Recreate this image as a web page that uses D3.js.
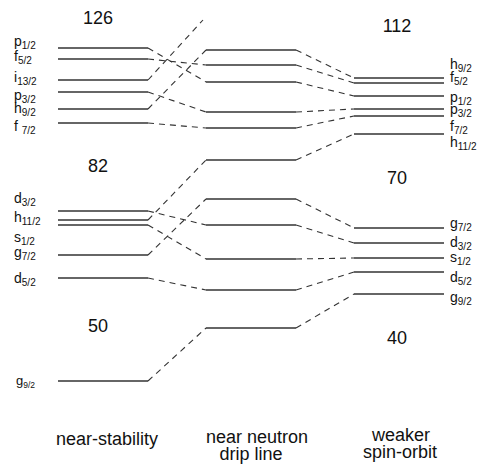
<!DOCTYPE html>
<html>
<head>
<meta charset="utf-8">
<script src="https://cdn.jsdelivr.net/npm/d3@7"></script>
<style>
  html, body { margin: 0; padding: 0; background: #fff; }
  svg { display: block; font-family: "Liberation Sans", Arial, Helvetica, sans-serif; }
</style>
</head>
<body>
<svg id="chart" width="478" height="468"></svg>
<script>
// ---- data (energies in arbitrary units, higher = less bound) ----
const columns = ["near-stability", "near neutron drip line", "weaker spin-orbit"];
const orbitL  = ["p", "f", "i", "p", "h", "f", "d", "h", "s", "g", "d", "g"];
const orbitJ  = ["1/2", "5/2", "13/2", "3/2", "9/2", "7/2", "3/2", "11/2", "1/2", "7/2", "5/2", "9/2"];
const energyStability = [352, 341, 320, 308, 291, 277, 189, 180, 175, 145, 122, 19];
const energyDripLine  = [318, 335, 380, 288, 350, 272, 175, 240, 141, 201, 110, 72];
const energyWeakSO    = [304, 317, null, 291, 322, 284, 157, 266, 142, 172, 128, 106];
const magicStability  = [126, 82, 50];
const magicStabilityE = [382, 234, 74];
const magicWeakSO     = [112, 70, 40];
const magicWeakSOE    = [374, 222, 62];

// ---- layout ----
const svg = d3.select("#chart");
const x = d3.scalePoint().domain(columns).range([103, 399]);
const y = d3.scaleLinear().domain([0, 400]).range([400, 0]);
const halfW = 45;
const lineColor = "#333";
const textColor = "#111";

// label baseline offsets from their level lines (in orbit order)
const labelNudgeLeft  = [-2, 2, 2, 8, 4, 8, -8, 2, 17, 2, 5, 4];
const labelNudgeRight = [6, -1, 0, 5, -9, 15, 4, 13, 4, 0, 10, 8];

const series = [energyStability, energyDripLine, energyWeakSO];
const levels = orbitL.map((l, i) => ({
  l, j: orbitJ[i], i,
  e: series.map(s => s[i])
}));

// solid level lines
levels.forEach(d => {
  d.e.forEach((e, c) => {
    if (e == null) return;
    // level is off-chart in middle column when it vanishes in next column
    if (c === 1 && d.e[2] == null) return;
    const cx = x(columns[c]);
    svg.append("line")
      .attr("x1", cx - halfW).attr("x2", cx + halfW)
      .attr("y1", y(e)).attr("y2", y(e))
      .attr("stroke", lineColor).attr("stroke-width", 1.3);
  });
});

// dashed connectors
levels.forEach(d => {
  for (let c = 0; c < 2; c++) {
    const e0 = d.e[c], e1 = d.e[c + 1];
    if (e0 == null) continue;
    if (c === 1 && e1 == null) continue;
    const offTop = (c === 0 && d.e[2] == null);
    svg.append("line")
      .attr("x1", x(columns[c]) + halfW).attr("y1", y(e0))
      .attr("x2", x(columns[c + 1]) - halfW - (offTop ? 3 : 0)).attr("y2", y(e1))
      .attr("stroke", lineColor).attr("stroke-width", 1.1)
      .attr("stroke-dasharray", "6,5");
  }
});

// orbit labels
function orbitLabel(xpos, ypos, d, small, right) {
  const t = svg.append("text")
    .attr("x", xpos).attr("y", ypos)
    .attr("fill", textColor)
    .attr("font-size", small ? 13 : 14);
  t.append("tspan").text(d.l + (d.l === "f" && d.j === "7/2" && !right ? " " : ""));
  t.append("tspan").attr("dy", 3).attr("font-size", small ? 8.5 : 10).text(d.j);
}
levels.forEach((d, i) => {
  orbitLabel(i === 11 ? 16 : 14, y(d.e[0]) + labelNudgeLeft[i], d, i === 11, false);
  if (d.e[2] != null) {
    orbitLabel(450, y(d.e[2]) + labelNudgeRight[i], d, false, true);
  }
});

// magic numbers
magicStability.forEach((m, i) => {
  svg.append("text").attr("x", x(columns[0]) - 5).attr("y", y(magicStabilityE[i]) + 6)
    .attr("text-anchor", "middle").attr("font-size", 18).attr("fill", textColor).text(m);
});
magicWeakSO.forEach((m, i) => {
  svg.append("text").attr("x", x(columns[2]) - 2).attr("y", y(magicWeakSOE[i]) + 6)
    .attr("text-anchor", "middle").attr("font-size", 18).attr("fill", textColor).text(m);
});

// column titles
const titleLines = [["near-stability"], ["near neutron", "drip line"], ["weaker", "spin-orbit"]];
const titleBase = [445, 443, 441];
const titleDx = [[4], [6, 0], [2, 1]];
titleLines.forEach((lines, c) => {
  lines.forEach((s, k) => {
    svg.append("text")
      .attr("x", x(columns[c]) + titleDx[c][k])
      .attr("y", titleBase[c] + k * 17)
      .attr("text-anchor", "middle").attr("font-size", 18).attr("fill", textColor)
      .text(s);
  });
});
</script>
</body>
</html>
